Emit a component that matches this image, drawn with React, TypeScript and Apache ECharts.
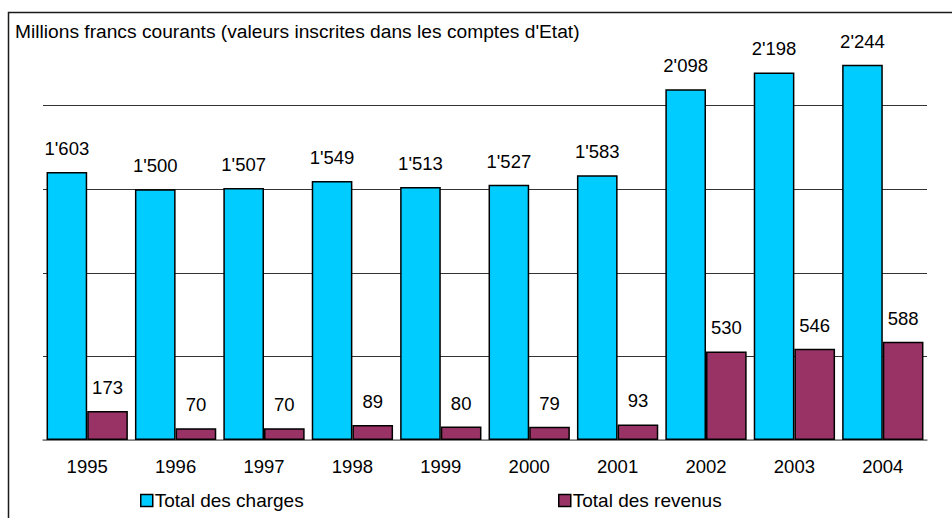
import React, { useEffect, useRef } from "react";
import * as echarts from "echarts";

const years = ["1995", "1996", "1997", "1998", "1999", "2000", "2001", "2002", "2003", "2004"];
const charges = [1603, 1500, 1507, 1549, 1513, 1527, 1583, 2098, 2198, 2244];
const revenus = [173, 70, 70, 89, 80, 79, 93, 530, 546, 588];
const seriesNames = ["Total des charges", "Total des revenus"];
const titleText = "Millions francs courants (valeurs inscrites dans les comptes d'Etat)";

const FONT = 'Arial, "Liberation Sans", sans-serif';

function fmt(v: number): string {
  const s = String(Math.round(v));
  return s.replace(/\B(?=(\d{3})+(?!\d))/g, "'");
}

export default function App() {
  const ref = useRef<HTMLDivElement>(null);
  useEffect(() => {
    if (!ref.current) return;
    const chart = echarts.init(ref.current, undefined, { renderer: "svg" });
    const labelCfg = {
      show: true,
      position: "top" as const,
      distance: 14,
      color: "#000",
      fontSize: 18.5,
      fontFamily: FONT,
      formatter: (p: any) => fmt(p.value),
    };
    const legendBase = {
      top: 486,
      itemWidth: 12,
      itemHeight: 12,
      icon: "rect",
      textStyle: { fontSize: 19, color: "#000", fontFamily: FONT, padding: [0, 0, 0, -3] },
      itemStyle: { borderColor: "#000", borderWidth: 1.5 },
    };
    chart.setOption({
      animation: false,
      backgroundColor: "#fff",
      textStyle: { fontFamily: FONT },
      title: {
        text: titleText,
        left: 10,
        top: 17,
        textStyle: { fontSize: 19.2, fontWeight: "normal", color: "#000", fontFamily: FONT },
      },
      graphic: [
        {
          type: "rect",
          shape: { x: 8.5, y: 12.5, width: 1000, height: 1000 },
          style: { fill: "none", stroke: "#1a1a1a", lineWidth: 1.5 },
          silent: true,
          z: 100,
        },
      ],
      legend: [
        { ...legendBase, data: [seriesNames[0]], left: 135 },
        { ...legendBase, data: [seriesNames[1]], left: 553 },
      ],
      grid: { left: 43, right: 25, top: 22, bottom: 78, containLabel: false },
      xAxis: {
        type: "category",
        data: years,
        axisLine: { show: true, lineStyle: { color: "#808080", width: 1.5 } },
        axisTick: { show: false },
        axisLabel: { color: "#000", fontSize: 18.5, fontFamily: FONT, margin: 17 },
      },
      yAxis: {
        type: "value",
        min: 0,
        max: 2500,
        interval: 500,
        axisLabel: { show: false },
        axisLine: { show: false },
        axisTick: { show: false },
        splitLine: {
          show: true,
          lineStyle: { color: ["#808080", "#333", "#333", "#333", "#333", "rgba(0,0,0,0)"], width: 1 },
        },
      },
      series: [
        {
          name: seriesNames[0],
          type: "bar",
          data: charges,
          barGap: "0%",
          barCategoryGap: "8%",
          itemStyle: { color: "#00CCFF", borderColor: "#000", borderWidth: 1.5 },
          label: labelCfg,
        },
        {
          name: seriesNames[1],
          type: "bar",
          data: revenus,
          barGap: "0%",
          barCategoryGap: "8%",
          itemStyle: { color: "#993366", borderColor: "#000", borderWidth: 1.5 },
          label: labelCfg,
        },
      ],
    });
    return () => chart.dispose();
  }, []);
  return (
    <div
      ref={ref}
      style={{ position: "fixed", left: 0, top: 0, width: 952, height: 518 }}
    />
  );
}
